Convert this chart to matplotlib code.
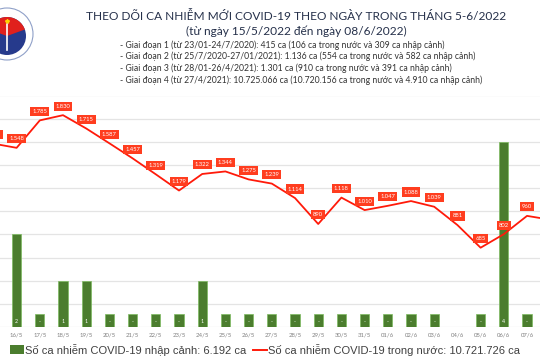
import numpy as np
import matplotlib.pyplot as plt
from matplotlib.patches import Circle, Wedge

# data: 15/5 -> 08/6 (the first and last day sit just outside the frame)
days = ['15/5', '16/5', '17/5', '18/5', '19/5', '20/5', '21/5', '22/5', '23/5',
        '24/5', '25/5', '26/5', '27/5', '28/5', '29/5', '30/5', '31/5',
        '01/6', '02/6', '03/6', '04/6', '05/6', '06/6', '07/6', '08/6']
domestic = [1584, 1548, 1785, 1830, 1715, 1587, 1457, 1319, 1179, 1322, 1344,
            1275, 1239, 1114, 890, 1118, 1010, 1047, 1088, 1039, 881, 685, 802,
            960, 927]
imported = [0, 2, 0, 1, 1, 0, 0, 0, 0, 1, 0, 0, 0, 0, 0, 0, 0, 0, 0, 0,
            None, 0, 4, 0, 0]

title = 'THEO DÕI CA NHIỄM MỚI COVID-19 THEO NGÀY TRONG THÁNG 5-6/2022'
subtitle = '(từ ngày 15/5/2022 đến ngày 08/6/2022)'
notes = [
    '- Giai đoạn 1 (từ 23/01-24/7/2020): 415 ca (106 ca trong nước và 309 ca nhập cảnh)',
    '- Giai đoạn 2 (từ 25/7/2020-27/01/2021): 1.136 ca (554 ca trong nước và 582 ca nhập cảnh)',
    '- Giai đoạn 3 (từ 28/01-26/4/2021): 1.301 ca (910 ca trong nước và 391 ca nhập cảnh)',
    '- Giai đoạn 4 (từ 27/4/2021): 10.725.066 ca (10.720.156 ca trong nước và 4.910 ca nhập cảnh)',
]
legend_bar = 'Số ca nhiễm COVID-19 nhập cảnh: 6.192 ca'
legend_line = 'Số ca nhiễm COVID-19 trong nước: 10.721.726 ca'

GREEN = '#4b7d2e'
RED = '#ff1a0a'
LABEL_BG = '#ff3d1f'
STUB = 0.27  # zero-value bars are drawn as a short stub

plt.rcParams['font.family'] = ['Lato', 'DejaVu Sans']

fig = plt.figure(figsize=(5.4, 3.6), dpi=100)
fig.patch.set_facecolor('white')

ax = fig.add_axes([0.0, 1 - 327 / 360, 1.0, (327 - 95.5) / 360])
x = np.arange(len(days))

# the first and last day fall outside the frame, so their bars are skipped
for i, v in enumerate(imported[1:-1], start=1):
    if v is None:
        continue
    h = v if v > 0 else STUB
    ax.bar(x[i], h, width=0.39, color=GREEN, edgecolor='#7dbb5f',
           linewidth=0.5, zorder=2)
    ax.text(x[i], 0.12, str(v) if v > 0 else '-', color='white',
            fontsize=3.8, ha='center', va='center', zorder=3)

ax.set_ylim(0, 5)
ax.set_xlim(0.284, 0.284 + 540 / 23.2)
ax.set_yticks(np.arange(0, 5.01, 0.5))
ax.yaxis.grid(True, color='#e4e4e4', linewidth=0.9)
ax.set_axisbelow(True)
ax.set_xticks(x[1:-1])
ax.set_xticklabels(days[1:-1], fontsize=4.3, color='#808080')
ax.tick_params(axis='x', length=0, pad=4)
ax.tick_params(axis='y', length=0, labelleft=False)
for s in ax.spines.values():
    s.set_visible(False)

ax2 = ax.twinx()
ax2.plot(x, domestic, color=RED, linewidth=1.3, zorder=4)
ax2.set_ylim(0, 2000)
ax2.set_yticks([])
for s in ax2.spines.values():
    s.set_visible(False)
for i, v in enumerate(domestic[:-1]):
    ax2.annotate(f'{v:,}'.replace(',', '.'), (x[i], v), xytext=(0, 6.5),
                 textcoords='offset points', ha='center', va='center',
                 fontsize=4.2, color='white', annotation_clip=False,
                 bbox=dict(boxstyle='square,pad=0.35', fc=LABEL_BG, ec='none'),
                 zorder=5)

# header text
fig.text(296 / 540, 1 - 16.5 / 360, title, ha='center', va='center',
         fontsize=8.6, color='#25304a')
fig.text(296 / 540, 1 - 31.5 / 360, subtitle, ha='center', va='center',
         fontsize=8.6, color='#25304a')
for k, line in enumerate(notes):
    fig.text(120 / 540, 1 - (45 + 11.7 * k) / 360, line, ha='left',
             va='center', fontsize=6.2, color='#333333')

# logo (simplified)
lg = fig.add_axes([0, 0, 1, 1], zorder=-1)
lg.set_xlim(0, 540)
lg.set_ylim(360, 0)
lg.axis('off')
lg.add_patch(Circle((7, 34), 26, fc='white', ec='#8fa0c8', lw=0.8))
lg.add_patch(Circle((7, 36), 19, fc='#263a8c', ec='none'))
lg.add_patch(Wedge((7, 36), 19, 200, 340, fc='#e0201c', ec='none'))
lg.plot([7, 7], [24, 50], color='white', lw=1.2)
lg.plot([7], [21], marker='*', color='#ffd200', markersize=3)

# legend at the bottom
fig.patches.append(plt.Rectangle((10 / 540, 1 - 354 / 360), 14 / 540, 9 / 360,
                                 transform=fig.transFigure, fc=GREEN, ec='none'))
fig.text(25 / 540, 1 - 349.5 / 360, legend_bar, ha='left', va='center',
         fontsize=8, color='#404040', family=['Liberation Sans', 'DejaVu Sans'])
fig.lines.append(plt.Line2D([253 / 540, 267 / 540], [1 - 349.5 / 360] * 2,
                            transform=fig.transFigure, color=RED, lw=1.4))
fig.text(268 / 540, 1 - 349.5 / 360, legend_line, ha='left', va='center',
         fontsize=8, color='#404040', family=['Liberation Sans', 'DejaVu Sans'])

fig.savefig('out.png', dpi=100, facecolor='white')
